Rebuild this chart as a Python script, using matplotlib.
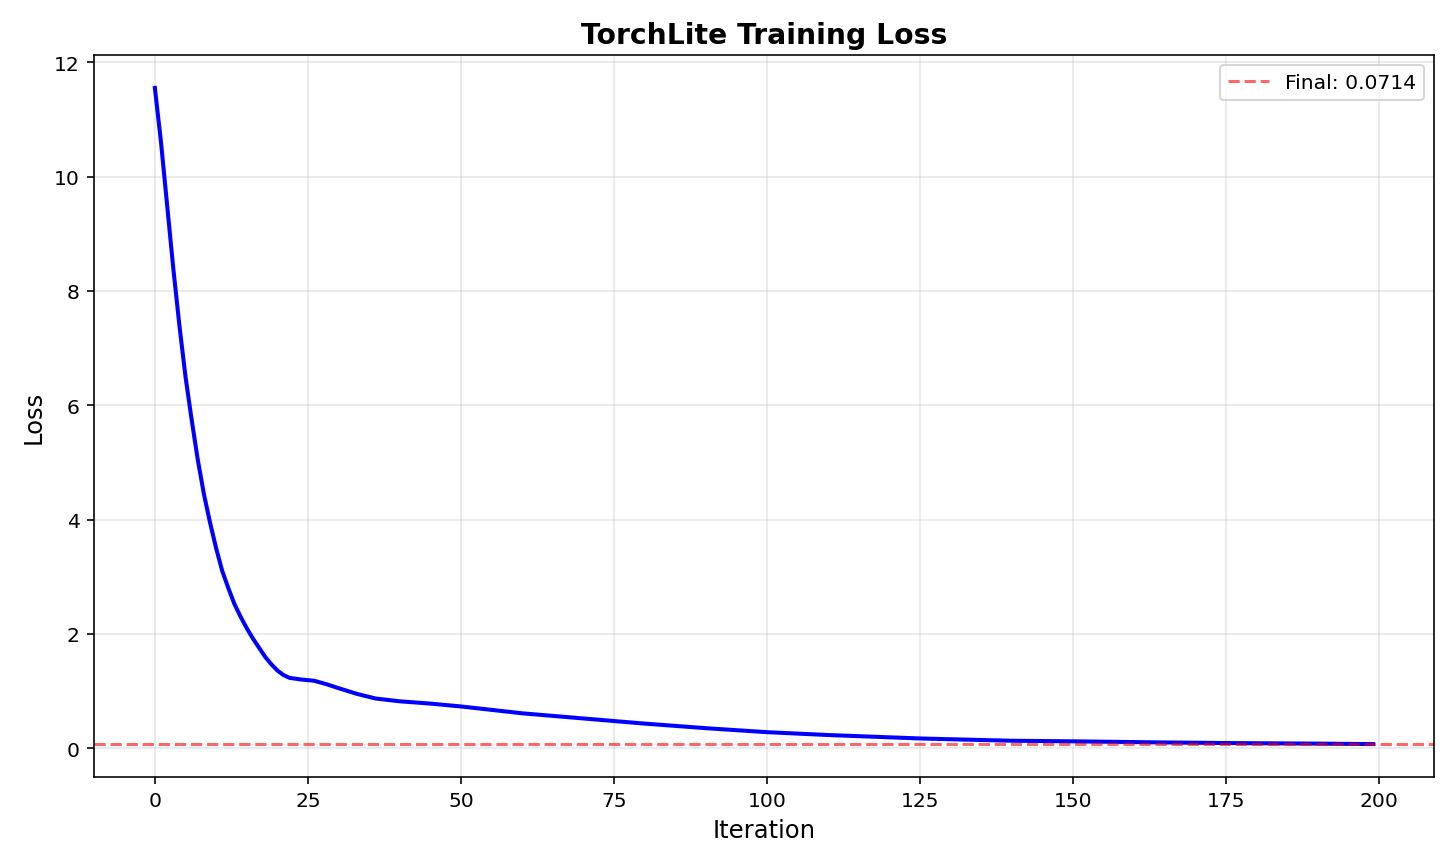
import numpy as np
import matplotlib
matplotlib.use('Agg')
import matplotlib.pyplot as plt

# --- данные ---
iterations = [0, 1, 2, 3, 4, 5, 6, 7, 8, 9, 10, 11, 12, 13, 14, 15, 16, 17, 18,
              19, 20, 21, 22, 24, 26, 28, 30, 33, 36, 40, 45, 50, 55, 60, 70, 80,
              90, 100, 110, 125, 140, 150, 165, 175, 190, 199]
loss = [11.55, 10.6, 9.5, 8.4, 7.4, 6.5, 5.75, 5.05, 4.45, 3.95, 3.5, 3.1, 2.8,
        2.52, 2.3, 2.1, 1.92, 1.76, 1.6, 1.47, 1.36, 1.28, 1.23, 1.2, 1.18, 1.12,
        1.05, 0.95, 0.87, 0.82, 0.78, 0.73, 0.67, 0.61, 0.52, 0.43, 0.35, 0.28,
        0.23, 0.17, 0.13, 0.12, 0.10, 0.09, 0.08, 0.0714]
final_loss = 0.0714

fig, ax = plt.subplots(figsize=(10, 5.94), dpi=145.6)
ax.plot(iterations, loss, color='blue', linewidth=2)
ax.axhline(final_loss, color='red', linestyle='--', alpha=0.6, linewidth=1.5,
           label=f'Final: {final_loss:.4f}')
ax.set_xlabel('Iteration', fontsize=12)
ax.set_ylabel('Loss', fontsize=12)
ax.set_title('TorchLite Training Loss', fontsize=14, fontweight='bold')
ax.legend(fontsize=10)
ax.grid(True, alpha=0.3)
plt.tight_layout()
plt.savefig('out.png')
